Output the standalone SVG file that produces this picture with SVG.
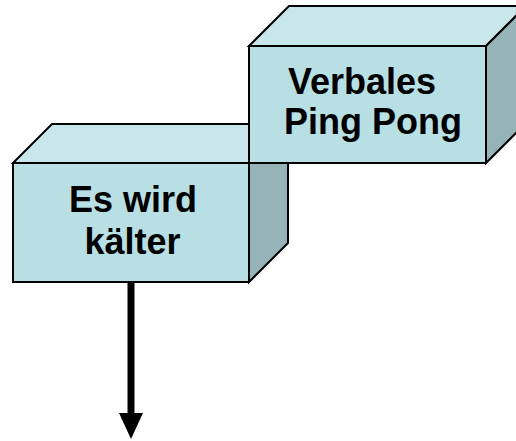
<svg xmlns="http://www.w3.org/2000/svg" width="516" height="441" viewBox="0 0 516 441">
<style>
.front{fill:#B8DFE3;stroke:#000;stroke-width:2;stroke-linejoin:miter}
.top{fill:#C9E7EA;stroke:#000;stroke-width:2;stroke-linejoin:miter}
.side{fill:#96B4B7;stroke:#000;stroke-width:2;stroke-linejoin:miter}
.lbl{font-family:"Liberation Sans",Arial,sans-serif;font-weight:bold;font-size:36px;fill:#000;text-anchor:middle}
</style>
<defs>
<marker id="ah" markerUnits="userSpaceOnUse" markerWidth="26" markerHeight="24" refX="0" refY="12" orient="auto" viewBox="0 0 26 24">
<path d="M0,0 L26,12 L0,24 Z" fill="#000"/>
</marker>
</defs>
<rect width="516" height="441" fill="#fff"/>
<g id="connectors">
<line x1="131" y1="282" x2="131" y2="413" stroke="#000" stroke-width="7" marker-end="url(#ah)"/>
</g>
<g id="node-es-wird-kaelter">
<polygon class="top" points="13,163 52,124 288,124 249,163"/>
<polygon class="side" points="249,163 288,124 288,243 249,282"/>
<rect class="front" x="13" y="163" width="236" height="119"/>
<text class="lbl" x="133" y="212">Es wird</text>
<text class="lbl" x="132.5" y="254">kälter</text>
</g>
<g id="node-verbales-ping-pong">
<polygon class="top" points="249,46 289,6 526,6 486,46"/>
<polygon class="side" points="486,46 526,6 526,123 486,163"/>
<rect class="front" x="249" y="46" width="237" height="117"/>
<text class="lbl" x="362" y="93.5">Verbales</text>
<text class="lbl" x="373" y="134">Ping Pong</text>
</g>
</svg>
